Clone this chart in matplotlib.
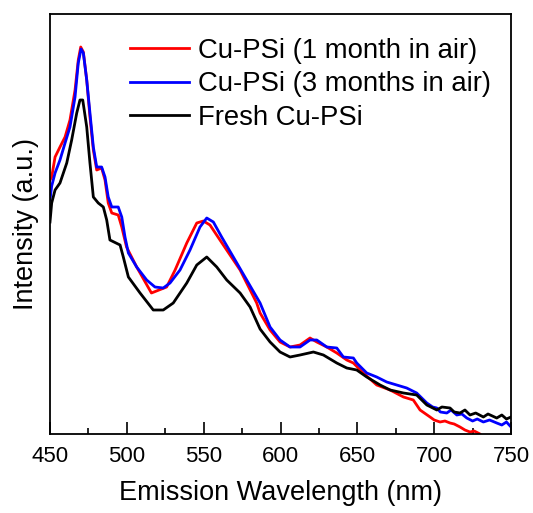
import numpy as np
import matplotlib
matplotlib.use('Agg')
import matplotlib.pyplot as plt
from matplotlib.ticker import MultipleLocator

plt.rcParams['font.family'] = ['Liberation Sans', 'DejaVu Sans']

# spectra (intensity in arbitrary units)
wl_1m = [450, 451.1, 453.3, 456.5, 459.8, 463.0, 466.3, 468.4, 470.0, 471.7, 473.9, 476.0,
         478.2, 480.4, 483.6, 485.8, 487.9, 490.2, 494.4, 496.7, 499.8, 506.4, 516.0, 525.9,
         531.4, 539.0, 545.5, 549.8, 554.1, 560.6, 573.7, 584.5, 586.7, 593.2, 599.7, 606.2,
         612.7, 619.2, 623.6, 630.1, 636.6, 643.1, 647.4, 653.9, 662.6, 671.3, 680.0, 686.4,
         690.8, 697.3, 700, 703.8, 707, 710.3, 713, 716.8, 720, 723.3, 726, 729.8, 733]
int_1m = [254, 257, 277, 287, 297, 314, 344, 374, 387, 382, 354, 317,
          284, 264, 266, 254, 231, 221, 219, 207, 187, 167, 141, 147,
          164, 191, 211, 213, 209, 194, 164, 131, 121, 104, 92, 87,
          89, 96, 92, 87, 81, 74, 71, 61, 49, 44, 37, 34,
          24, 17, 14, 12, 13, 11, 10, 7, 4, 2, 3, 0, -5]

wl_3m = [450, 451.1, 453.3, 456.5, 459.8, 463.0, 466.3, 468.4, 470.2, 471.7, 473.9, 476.0,
         478.2, 480.4, 483.6, 485.8, 487.9, 490.2, 494.4, 496.7, 498.8, 501.0, 506.4, 512.9,
         518.3, 523.7, 528.1, 534.6, 541.1, 547.6, 552.0, 556.3, 561.7, 569.3, 578.0, 586.7,
         593.2, 599.7, 606.2, 612.7, 619.2, 623.6, 630.1, 636.6, 640.9, 647.4, 649.6, 656.1,
         662.6, 669.1, 675.6, 682.1, 688.6, 695.2, 699, 701.7, 704, 708.2, 711, 714.7, 718,
         721.2, 725, 728, 732, 736, 740.7, 744, 747, 750]
int_3m = [234, 248, 261, 274, 291, 307, 337, 371, 385, 381, 354, 321,
          287, 267, 267, 257, 237, 227, 227, 217, 197, 181, 167, 154,
          147, 146, 151, 164, 184, 207, 216, 212, 197, 177, 154, 131,
          107, 94, 87, 87, 94, 94, 87, 86, 77, 76, 71, 61,
          57, 52, 49, 46, 41, 31, 27, 26, 22, 21, 24, 19, 20,
          16, 13, 15, 12, 14, 11, 9, 12, 7]

wl_fresh = [450, 451.1, 453.3, 456.5, 460.9, 464.1, 467.4, 469.5, 471.3, 473.9, 476.0, 478.2,
            481.4, 484.7, 486.9, 489.0, 495.6, 497.7, 501.0, 508.6, 517.2, 523.7, 530.2, 539.0,
            545.5, 552.0, 558.5, 565.0, 573.7, 580.2, 586.7, 593.2, 599.7, 606.2, 612.7, 621.4,
            627.9, 636.6, 643.1, 649.6, 656.1, 664.8, 671.3, 680.0, 688.6, 695.2, 701.7, 705,
            710.3, 713, 716.8, 720, 723.3, 727, 732, 735, 740.7, 744, 747, 750]
int_fresh = [212, 231, 244, 251, 271, 294, 321, 334, 334, 307, 271, 237,
             231, 227, 214, 194, 189, 177, 157, 141, 124, 124, 131, 151,
             169, 177, 167, 154, 141, 127, 105, 92, 82, 77, 79, 82,
             79, 71, 66, 64, 57, 49, 44, 41, 39, 29, 24, 27,
             26, 22, 21, 24, 19, 21, 17, 20, 16, 19, 15, 17]

labels = ['Cu-PSi (1 month in air)', 'Cu-PSi (3 months in air)', 'Fresh Cu-PSi']

fig = plt.figure(figsize=(5.33, 5.13), dpi=100)
ax = fig.add_axes([0.0938, 0.154, 0.865, 0.8187])

ax.plot(wl_1m, int_1m, color='#ff0000', lw=2.0, label=labels[0])
ax.plot(wl_3m, int_3m, color='#0000ff', lw=2.0, label=labels[1])
ax.plot(wl_fresh, int_fresh, color='black', lw=2.0, label=labels[2])

ax.set_xlim(450, 750)
ax.set_ylim(0, 420)
ax.xaxis.set_major_locator(MultipleLocator(50))
ax.xaxis.set_minor_locator(MultipleLocator(25))
ax.set_yticks([])
ax.tick_params(axis='x', which='major', direction='in', length=8.5, width=1.2,
               labelsize=16, pad=9)
ax.tick_params(axis='x', which='minor', direction='in', length=4.3, width=1.2)
for s in ax.spines.values():
    s.set_linewidth(1.3)

ax.set_xlabel('Emission Wavelength (nm)', fontsize=19.5, labelpad=9)
ax.set_ylabel('Intensity (a.u.)', fontsize=19.5, labelpad=8)

ax.legend(loc='upper left', bbox_to_anchor=(0.1735, 0.943), frameon=False,
          fontsize=19.8, borderpad=0, borderaxespad=0, handlelength=2.15,
          handletextpad=0.32, labelspacing=0.27)

fig.savefig('out.png', dpi=100)
